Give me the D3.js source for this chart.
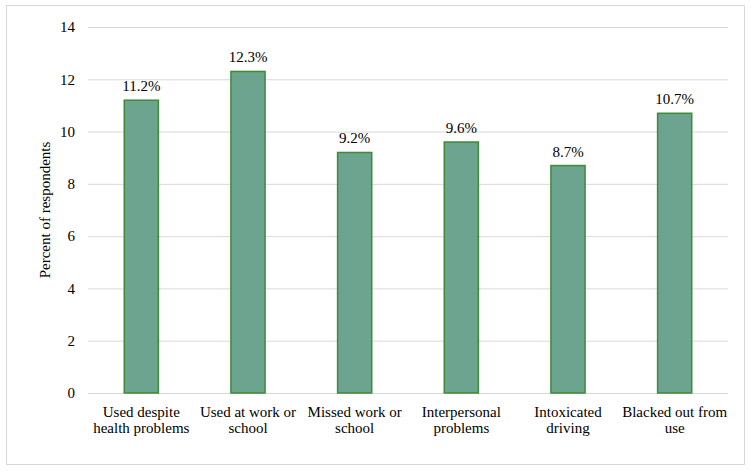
<!DOCTYPE html>
<html>
<head>
<meta charset="utf-8">
<script src="https://cdn.jsdelivr.net/npm/d3@7"></script>
<style>
  body { margin: 0; background: #fff; font-family: 'Times New Roman'; }
</style>
</head>
<body>
<svg id="chart" width="751" height="471"></svg>
<script>
const categories = [
    ['Used despite', 'health problems'],
    ['Used at work or', 'school'],
    ['Missed work or', 'school'],
    ['Interpersonal', 'problems'],
    ['Intoxicated', 'driving'],
    ['Blacked out from', 'use']
];
const percents = [11.2, 12.3, 9.2, 9.6, 8.7, 10.7];
const yTicks = [0, 2, 4, 6, 8, 10, 12, 14];

const svg = d3.select('#chart');
const plotLeft = 88, plotRight = 728, plotTop = 27, plotBottom = 393;

// outer frame
svg.append('rect')
    .attr('x', 6.5).attr('y', 5.5)
    .attr('width', 738).attr('height', 459)
    .attr('fill', 'none')
    .attr('stroke', '#d9d9d9');

const x = d3.scaleBand()
    .domain(d3.range(categories.length))
    .range([plotLeft, plotRight])
    .paddingInner(0.68)
    .paddingOuter(0.34);

const y = d3.scaleLinear()
    .domain([0, 14])
    .range([plotBottom, plotTop]);

// gridlines + y labels
const yAxis = svg.append('g')
    .attr('transform', `translate(${plotLeft},0)`)
    .call(d3.axisLeft(y).tickValues(yTicks).tickSize(-(plotRight - plotLeft)).tickPadding(13))
    .attr('font-family', 'Times New Roman')
    .attr('font-size', 15);
yAxis.select('.domain').remove();
yAxis.selectAll('line').attr('stroke', '#d9d9d9');
yAxis.selectAll('text').attr('fill', '#000');

svg.append('text')
    .attr('transform', `translate(50,${(plotTop + plotBottom) / 2}) rotate(-90)`)
    .attr('text-anchor', 'middle')
    .attr('font-family', 'Times New Roman')
    .attr('font-size', 15)
    .text('Percent of respondents');

// bars
svg.selectAll('rect.bar')
    .data(percents)
    .join('rect')
    .attr('class', 'bar')
    .attr('x', (d, i) => x(i))
    .attr('width', x.bandwidth())
    .attr('y', d => y(d))
    .attr('height', d => y(0) - y(d))
    .attr('fill', '#6ca48f')
    .attr('stroke', '#3d8b37')
    .attr('stroke-width', 1.5);

// value labels
svg.selectAll('text.val')
    .data(percents)
    .join('text')
    .attr('class', 'val')
    .attr('x', (d, i) => x(i) + x.bandwidth() / 2)
    .attr('y', d => y(d) - 9)
    .attr('text-anchor', 'middle')
    .attr('font-family', 'Times New Roman')
    .attr('font-size', 15)
    .text(d => d.toFixed(1) + '%');

// category labels
const cat = svg.selectAll('text.cat')
    .data(categories)
    .join('text')
    .attr('class', 'cat')
    .attr('text-anchor', 'middle')
    .attr('font-family', 'Times New Roman')
    .attr('font-size', 15);
cat.each((d, i, n) => {
    d3.select(n[i]).selectAll('tspan')
        .data(d)
        .join('tspan')
        .attr('x', x(i) + x.bandwidth() / 2)
        .attr('y', (s, j) => 417 + j * 16)
        .text(s => s);
});
</script>
</body>
</html>
